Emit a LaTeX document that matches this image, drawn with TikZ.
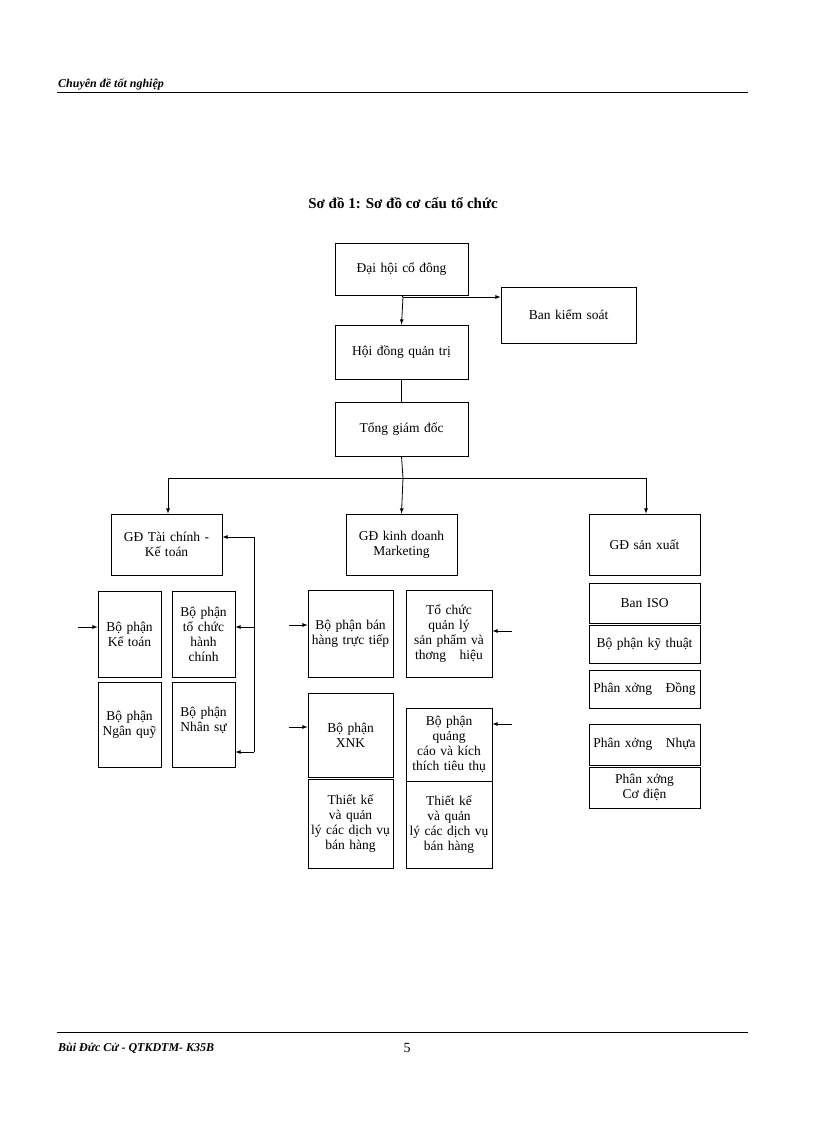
\documentclass[tikz,border=0pt]{standalone}
\usepackage{fontspec}
\setmainfont{Liberation Serif}
\begin{document}
\begin{tikzpicture}[x=1pt,y=-1pt,
 bx/.style={draw,thick,align=center,inner sep=1pt,font=\fontsize{13.5}{15}\selectfont},
 ar/.style={-latex,thick},
 ln/.style={thick}]
\useasboundingbox (0,0) rectangle (816,1123);
\newcommand\B[5]{\node[bx,minimum width=#3-#2,minimum height=#5-#4,text width=#3-#2-4] (#1) at ({(#2+#3)/2},{(#4+#5)/2})}
% header/footer
\draw[thick] (57,92) -- (748,92);
\node[anchor=south west,font=\bfseries\itshape\fontsize{12}{12}\selectfont,inner sep=1pt] (hdr) at (57,91) {Chuyên đề tốt nghiệp};
\draw[thick] (57,1032) -- (748,1032);
\node[anchor=west,font=\bfseries\itshape\fontsize{12}{12}\selectfont,inner sep=1pt] (ftr) at (57,1048) {Bùi Đức Cử - QTKDTM- K35B};
\node[font=\fontsize{14}{14}\selectfont] (pg) at (407,1048) {5};
\node[font=\bfseries\fontsize{15}{15}\selectfont] (title) at (403,203) {Sơ đồ 1: Sơ đồ cơ cấu tổ chức};
% top
\B{dh}{335}{468}{243}{295} {Đại hội cổ đông};
\B{bks}{501}{636}{287}{343} {Ban kiểm soát};
\B{hd}{335}{468}{325}{379} {Hội đồng quản trị};
\B{tgd}{335}{468}{402}{456} {Tổng giám đốc};
\coordinate (j1) at (403,297);
\draw[ln] (dh.south) -- (j1);
\draw[ar] (j1) -- (hd.north);
\draw[ar] (j1) -- (bks.west|-j1);
\draw[ln] (hd.south) -- (tgd.north);
\coordinate (j2) at (403,478);
\coordinate (jl) at (168,478);
\coordinate (jr) at (646,478);
\draw[ln] (tgd.south) -- (j2);
\draw[ln] (jl) -- (jr);
\B{tc}{111}{222}{514}{575} {GĐ Tài chính -\\Kế toán};
\B{kd}{346}{457}{514}{575} {GĐ kinh doanh\\Marketing};
\B{sx}{589}{700}{514}{575} {GĐ sản xuất};
\draw[ar] (jl) -- (jl|-tc.north);
\draw[ar] (j2) -- (kd.north);
\draw[ar] (jr) -- (jr|-sx.north);
% left group
\B{kt}{98}{161}{591}{677} {Bộ phận\\Kế toán};
\B{hc}{172}{235}{591}{677} {Bộ phận\\tổ chức\\hành chính};
\B{nq}{98}{161}{682}{767} {Bộ phận\\Ngân quỹ};
\node[bx,minimum width=63,minimum height=85,text width=59,anchor=north] (ns) at (203.5,682) {\\[-14pt]Bộ phận\\Nhân sự\\[26pt]};
\coordinate (kta) at (78,627);
\draw[ar] (kta) -- (kt.west|-kta);
\coordinate (b1) at (254,537);
\coordinate (b2) at (254,627);
\coordinate (b3) at (254,752);
\draw[ln] (b1) -- (b3);
\draw[ar] (b1) -- (tc.east|-b1);
\draw[ar] (b2) -- (hc.east|-b2);
\draw[ar] (b3) -- (ns.east|-b3);
% middle group
\B{bh}{308}{393}{590}{677} {Bộ phận bán\\hàng trực tiếp\\[18pt]};
\B{th}{406}{492}{590}{677} {Tổ chức quản lý\\sản phẩm và\\thơng\ \ \ hiệu};
\B{xnk}{308}{393}{693}{777} {Bộ phận\\XNK\\[22pt]};
\B{tk1}{308}{393}{779}{868} {Thiết kế và quản\\lý các dịch vụ\\bán hàng\\[8pt]};
\B{qc}{406}{492}{708}{781} {Bộ phận quảng\\cáo và kích\\thích tiêu thụ};
\B{tk2}{406}{492}{781}{868} {Thiết kế và quản\\lý các dịch vụ\\bán hàng\\[6pt]};
\coordinate (a1) at (289,625);
\coordinate (a2) at (512,631);
\coordinate (a3) at (289,727);
\coordinate (a4) at (512,724);
\draw[ar] (a1) -- (bh.west|-a1);
\draw[ar] (a2) -- (th.east|-a2);
\draw[ar] (a3) -- (xnk.west|-a3);
\draw[ar] (a4) -- (qc.east|-a4);
% right group
\B{iso}{589}{700}{583}{623} {Ban ISO};
\B{kyt}{589}{700}{625}{663} {Bộ phận kỹ thuật};
\B{dong}{589}{700}{670}{708} {Phân xởng\ \ \ Đồng};
\B{nhua}{589}{700}{724}{765} {Phân xởng\ \ \ Nhựa};
\B{cd}{589}{700}{767}{808} {Phân xởng\ \ \ Cơ điện};
\end{tikzpicture}
\end{document}
